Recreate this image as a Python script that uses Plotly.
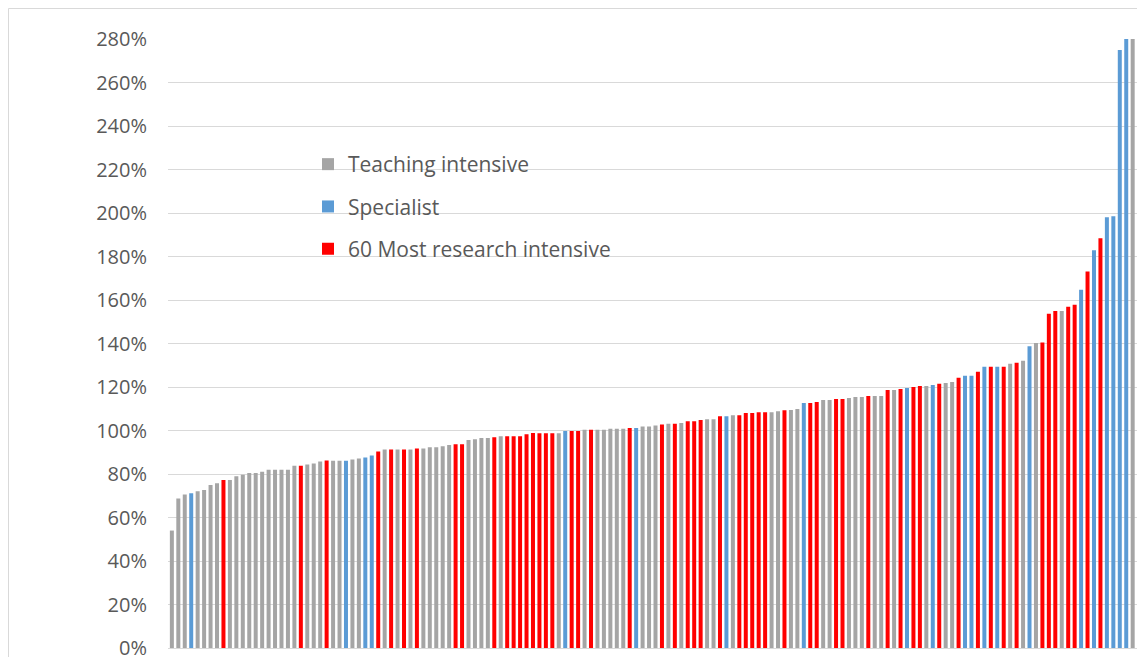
import plotly.graph_objects as go

## Values (percent), sorted low to high, one per institution
values = [54, 68.7, 70.6, 71.2, 72.1, 72.6, 74.9, 75.8, 77.2, 77.2,
          79.0, 79.6, 80.5, 80.5, 81.0, 81.9, 81.9, 81.9, 81.9, 83.8,
          83.8, 84.4, 84.8, 85.7, 86.2, 86.1, 86.1, 86.1, 86.7, 87.1,
          87.6, 88.5, 90.3, 91.3, 91.3, 91.3, 91.3, 91.3, 91.7, 91.7,
          92.3, 92.3, 92.8, 93.3, 93.7, 93.7, 95.6, 96.0, 96.5, 96.5,
          96.9, 97.4, 97.4, 97.4, 97.4, 98.3, 98.8, 98.7, 98.7, 98.7,
          98.7, 99.8, 99.8, 99.8, 100.3, 100.3, 100.3, 100.3, 100.8, 100.8,
          100.8, 101.2, 101.2, 101.8, 101.8, 102.3, 102.8, 103.1, 103.1, 103.5,
          104.3, 104.3, 104.8, 105.2, 105.2, 106.6, 106.6, 107.0, 107.0, 108.0,
          108.0, 108.4, 108.4, 108.4, 108.9, 109.3, 109.4, 109.9, 112.6, 112.6,
          113.1, 114.0, 114.0, 114.5, 114.5, 114.9, 115.4, 115.4, 115.9, 115.9,
          115.9, 118.6, 118.6, 119.1, 119.5, 120.0, 120.5, 120.5, 120.9, 121.5,
          121.8, 122.3, 124.3, 125.2, 125.2, 127.0, 129.3, 129.3, 129.3, 129.3,
          130.7, 131.2, 132.1, 138.7, 140.2, 140.5, 153.7, 155.0, 155.0, 156.9,
          157.8, 164.7, 173.1, 182.9, 188.4, 198.1, 198.5, 274.9, 280, 280,
          280]

## T = teaching intensive, S = specialist, R = 60 most research intensive
groups = list("TTTSTTTTRT" "TTTTTTTTTT" "RTTTRTTSTT" "SSRTRTRTRT"
              "TTTTRRTTTT" "RTRRRRRRRR" "TSRRTRTTTT" "TRSTTTRTRT"
              "RRRTTRSTRR" "RRRTTRTTSR" "RTTRRTTTRT" "TRTRSRRTSR"
              "TTRSSRSRSR" "TRTSTRRRTR" "RSRSRSSSST" "T")

labels = {"T": "Teaching intensive", "S": "Specialist", "R": "60 Most research intensive"}
colors = {"T": "#a5a5a5", "S": "#5b9bd5", "R": "#ff0000"}

fig = go.Figure()
for g in ["T", "S", "R"]:
    idx = [i for i, c in enumerate(groups) if c == g]
    fig.add_trace(go.Bar(x=idx, y=[values[i] for i in idx], name=labels[g],
                         marker_color=colors[g], marker_line_width=0,
                         legendgroup=g))

## the page body adds an 8px margin, so the figure is 8px smaller
W, H = 1137, 649
L, R, T, B = 160, 1135, 31, 640
pw, ph = R - L, B - T

fig.update_layout(
    width=W, height=H,
    margin=dict(l=L, r=W - R, t=T, b=H - B),
    barmode="overlay", bargap=0.38,
    plot_bgcolor="white", paper_bgcolor="white",
    font=dict(family="Open Sans", color="#595959"),
    xaxis=dict(range=[-0.6, len(values) - 0.4], showticklabels=False, ticks="",
               showgrid=False, zeroline=False, showline=True, linecolor="#d9d9d9",
               automargin=False),
    yaxis=dict(range=[0, 280], dtick=20, ticksuffix="%", gridcolor="#d9d9d9",
               zeroline=False, tickfont=dict(size=20, color="#595959"),
               ticklabelstandoff=20, ticklabeloverflow="allow", automargin=False),
    legend=dict(x=(300 - L) / pw, y=(B - 136) / ph, xanchor="left", yanchor="top",
                font=dict(size=21, color="#595959"), tracegroupgap=12,
                bgcolor="rgba(0,0,0,0)"),
    shapes=[dict(type="rect", xref="paper", yref="paper",
                 x0=(0.5 - L) / pw, x1=(W - 0.5 - L) / pw,
                 y0=(B - H - 20) / ph, y1=(B - 0.5) / ph,
                 line=dict(color="#d9d9d9", width=1), layer="below")],
)

fig.write_html("out.html")
